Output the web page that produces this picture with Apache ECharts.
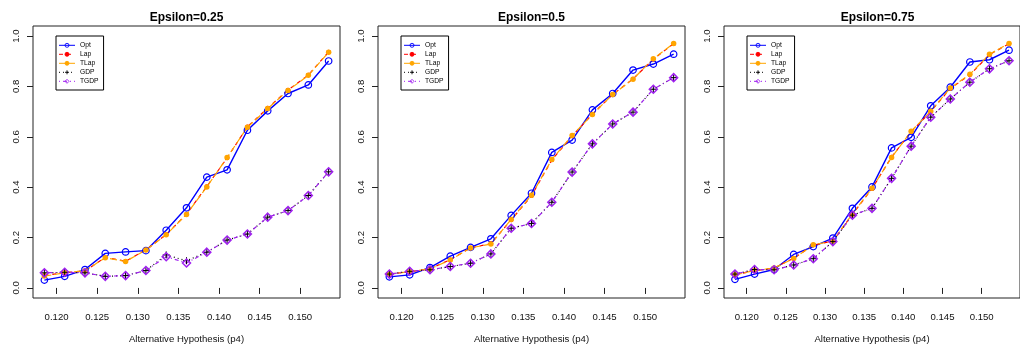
<!DOCTYPE html>
<html>
<head>
<meta charset="utf-8">
<script src="https://cdn.jsdelivr.net/npm/echarts@6/dist/echarts.min.js"></script>
<style>
  html, body { margin: 0; padding: 0; background: #ffffff; }
  #chart { width: 1020px; height: 349px; }
</style>
</head>
<body>
<div id="chart"></div>
<script>
// Alternative hypothesis values (p4) shared by all three panels
const p4 = [0.1185, 0.121, 0.1235, 0.126, 0.1285, 0.131, 0.1335, 0.136,
            0.1385, 0.141, 0.1435, 0.146, 0.1485, 0.151, 0.1535];

const epsilons = ['0.25', '0.5', '0.75'];
const seriesNames = ['Opt', 'Lap', 'TLap', 'GDP', 'TGDP'];
const xTicks = [0.120, 0.125, 0.130, 0.135, 0.140, 0.145, 0.150];
const yTicks = [0.0, 0.2, 0.4, 0.6, 0.8, 1.0];

// Power, epsilon = 0.25
const opt25  = [0.031, 0.046, 0.073, 0.137, 0.143, 0.148, 0.229, 0.318, 0.440, 0.469, 0.626, 0.703, 0.772, 0.806, 0.901];
const lap25  = [0.050, 0.060, 0.068, 0.121, 0.106, 0.151, 0.212, 0.293, 0.403, 0.516, 0.640, 0.714, 0.786, 0.845, 0.937];
const tlap25 = [0.047, 0.060, 0.068, 0.120, 0.105, 0.151, 0.211, 0.292, 0.401, 0.518, 0.638, 0.712, 0.784, 0.844, 0.936];
const gdp25  = [0.060, 0.062, 0.060, 0.046, 0.049, 0.069, 0.131, 0.108, 0.142, 0.190, 0.214, 0.281, 0.307, 0.367, 0.461];
const tgdp25 = [0.060, 0.062, 0.060, 0.046, 0.049, 0.069, 0.124, 0.099, 0.142, 0.190, 0.214, 0.281, 0.307, 0.367, 0.461];

// Power, epsilon = 0.5
const opt50  = [0.044, 0.052, 0.081, 0.126, 0.161, 0.195, 0.288, 0.376, 0.538, 0.587, 0.707, 0.772, 0.865, 0.889, 0.928];
const lap50  = [0.055, 0.064, 0.076, 0.112, 0.159, 0.176, 0.270, 0.366, 0.508, 0.603, 0.690, 0.768, 0.830, 0.908, 0.970];
const tlap50 = [0.055, 0.064, 0.076, 0.111, 0.159, 0.174, 0.272, 0.368, 0.510, 0.605, 0.689, 0.768, 0.829, 0.910, 0.971];
const gdp50  = [0.055, 0.066, 0.072, 0.085, 0.098, 0.135, 0.237, 0.256, 0.340, 0.460, 0.572, 0.651, 0.698, 0.789, 0.835];
const tgdp50 = [0.055, 0.066, 0.072, 0.085, 0.098, 0.135, 0.237, 0.256, 0.340, 0.460, 0.572, 0.651, 0.698, 0.789, 0.835];

// Power, epsilon = 0.75
const opt75  = [0.034, 0.055, 0.073, 0.133, 0.164, 0.198, 0.316, 0.401, 0.556, 0.598, 0.723, 0.797, 0.897, 0.906, 0.944];
const lap75  = [0.052, 0.068, 0.079, 0.118, 0.170, 0.186, 0.292, 0.394, 0.520, 0.620, 0.700, 0.792, 0.846, 0.926, 0.970];
const tlap75 = [0.052, 0.069, 0.079, 0.117, 0.171, 0.186, 0.294, 0.396, 0.518, 0.622, 0.702, 0.794, 0.848, 0.928, 0.971];
const gdp75  = [0.055, 0.073, 0.072, 0.091, 0.116, 0.184, 0.289, 0.316, 0.435, 0.563, 0.678, 0.750, 0.817, 0.870, 0.902];
const tgdp75 = [0.055, 0.073, 0.072, 0.091, 0.116, 0.184, 0.289, 0.316, 0.435, 0.563, 0.678, 0.750, 0.817, 0.870, 0.902];

const panels = [
  [opt25, lap25, tlap25, gdp25, tgdp25],
  [opt50, lap50, tlap50, gdp50, tgdp50],
  [opt75, lap75, tlap75, gdp75, tgdp75]
];

const FONT = "'Liberation Sans', Arial, Helvetica, sans-serif";
const boxLefts = [33, 378, 724];
const boxWidth = 307;
const boxTop = 26;
const boxHeight = 276;

// Line / symbol styling of each method
const styles = {
  Opt:  { color: '#0000FF', type: 'solid',         width: 1.4, symbol: 'circle',  size: 6.5, fill: 'rgba(0,0,0,0)', border: 1.2 },
  Lap:  { color: '#FF0000', type: [4, 4],          width: 1.2, symbol: 'circle',  size: 4.5, fill: '#FF0000',       border: 0 },
  TLap: { color: '#FFA500', type: [7, 3],          width: 1.2, symbol: 'circle',  size: 5.5, fill: '#FFA500',       border: 0 },
  GDP:  { color: '#000000', type: [1, 3],          width: 1.2, symbol: 'path://M0,5L10,5M5,0L5,10', size: 7, fill: 'rgba(0,0,0,0)', border: 1 },
  TGDP: { color: '#A020F0', type: [1, 3, 4, 3],    width: 1.2, symbol: 'diamond', size: 8,   fill: 'rgba(0,0,0,0)', border: 1.5 }
};

const grids = [], xAxes = [], yAxes = [], series = [], titles = [], legends = [];

boxLefts.forEach((left, i) => {
  grids.push({
    left: left, top: boxTop, width: boxWidth, height: boxHeight,
    show: true, borderColor: '#222', borderWidth: 1, backgroundColor: 'transparent'
  });
  xAxes.push({
    gridIndex: i, type: 'value', min: 0.1171, max: 0.1549,
    name: 'Alternative Hypothesis (p4)', nameLocation: 'middle', nameGap: 36,
    nameTextStyle: { fontFamily: FONT, fontSize: 9.6, color: '#111' },
    axisLine: { show: false },
    splitLine: { show: false },
    axisTick: { show: true, length: 6, lineStyle: { color: '#222', width: 1 }, customValues: xTicks },
    axisLabel: { show: true, margin: 14, fontFamily: FONT, fontSize: 9.6, color: '#111',
                 customValues: xTicks, formatter: v => v.toFixed(3) }
  });
  yAxes.push({
    gridIndex: i, type: 'value', min: -0.04, max: 1.04,
    axisLine: { show: false },
    splitLine: { show: false },
    axisTick: { show: true, length: 6, lineStyle: { color: '#222', width: 1 }, customValues: yTicks },
    axisLabel: { show: true, margin: 12, rotate: 90, fontFamily: FONT, fontSize: 9.6, color: '#111',
                 customValues: yTicks, formatter: v => v.toFixed(1) }
  });
  titles.push({
    text: 'Epsilon=' + epsilons[i],
    left: left + boxWidth / 2, top: 11.5, textAlign: 'center', padding: 0,
    textStyle: { fontFamily: FONT, fontSize: 12, fontWeight: 'bold', color: '#000' }
  });
  legends.push({
    orient: 'vertical', left: left + 23, top: 36,
    padding: [5.8, 5, 5.2, 2.5], itemWidth: 16, itemHeight: 5, itemGap: 2,
    borderColor: '#000', borderWidth: 1, backgroundColor: '#fff',
    selectedMode: false,
    lineStyle: { width: 1 },
    itemStyle: { borderWidth: 0.9 },
    textStyle: { fontFamily: FONT, fontSize: 6.7, color: '#000' },
    data: seriesNames
  });
  seriesNames.forEach((name, k) => {
    const s = styles[name];
    series.push({
      name: name, type: 'line', xAxisIndex: i, yAxisIndex: i,
      data: p4.map((x, j) => [x, panels[i][k][j]]),
      color: s.color,
      lineStyle: { color: s.color, type: s.type, width: s.width },
      symbol: s.symbol, symbolSize: s.size,
      itemStyle: { color: s.fill, borderColor: s.color, borderWidth: s.border },
      emphasis: { disabled: true },
      silent: true
    });
  });
});

const chart = echarts.init(document.getElementById('chart'), null, { renderer: 'canvas' });
chart.setOption({
  animation: false,
  backgroundColor: '#ffffff',
  title: titles,
  legend: legends,
  grid: grids,
  xAxis: xAxes,
  yAxis: yAxes,
  series: series
});
</script>
</body>
</html>
